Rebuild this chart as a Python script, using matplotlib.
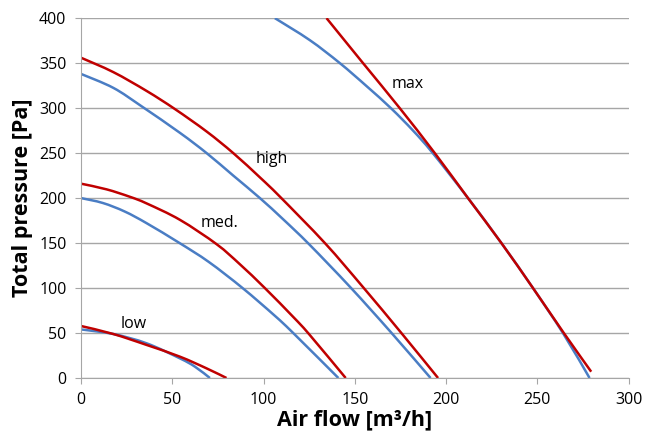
import matplotlib
matplotlib.use("Agg")
import matplotlib.pyplot as plt
from matplotlib.path import Path
from matplotlib.patches import PathPatch

plt.rcParams['font.family'] = ['Open Sans', 'DejaVu Sans']

# fan curves (x: air flow m3/h, y: total pressure Pa)
low_blue_x = [0, 17.7, 36, 54.2, 62.4, 70.6]
low_blue_y = [54, 48.9, 38.5, 21.8, 12.6, 0]
low_red_x = [0, 17.7, 36, 54.2, 68.8, 79.7]
low_red_y = [57.8, 48.9, 36.7, 23.7, 10.7, 0]

med_blue_x = [0, 12, 24, 36, 54, 70, 88.5, 106, 116, 141]
med_blue_y = [200, 194.5, 185, 172, 150, 129, 100, 69.5, 50.5, 0]
med_red_x = [0, 14, 26.8, 36, 54.2, 74.3, 87, 100.7, 116.2, 125, 145]
med_red_y = [216, 209.7, 201.4, 194, 175.8, 148.7, 126.5, 100, 68, 48.6, 0]

high_blue_x = [0, 17.7, 33.2, 54.2, 68.8, 83.4, 98, 110.7, 125, 147.5, 169.5, 191.5]
high_blue_y = [338, 322.5, 302, 272.5, 250, 225, 200, 176.5, 148.6, 101, 51.5, 0]
high_red_x = [0, 17.7, 36, 51.4, 68.8, 83.4, 98, 109, 133.6, 154.5, 175.5, 195.6]
high_red_y = [356, 340, 319, 299, 274, 250, 223, 201.5, 150, 101, 50, 0]

max_blue_x = [106.2, 125.3, 141.8, 156.4, 170, 181.9, 192.5, 212, 230.3, 247.6, 264, 278.6]
max_blue_y = [400, 375.6, 350, 324.5, 299.5, 275, 250.5, 200, 150, 100, 50, 0]
max_red_x = [134.5, 154.5, 174.6, 193.8, 212, 230.3, 247.6, 264.5, 279.5]
max_red_y = [400, 350, 300, 250, 200, 150, 100, 50, 7]

labels = ["low", "med.", "high", "max"]
label_x = [28.6, 76, 104.4, 179]
label_y = [59.6, 171.8, 243, 327]

blue = "#4a7dc4"
red = "#c00000"


def smooth_line(ax, xs, ys, color):
    # smoothed line like Excel: Catmull-Rom through the points, drawn as bezier path
    pts = list(zip(xs, ys))
    n = len(pts)
    verts = [pts[0]]
    codes = [Path.MOVETO]
    for i in range(n - 1):
        p0 = pts[i - 1] if i > 0 else pts[i]
        p1 = pts[i]
        p2 = pts[i + 1]
        p3 = pts[i + 2] if i + 2 < n else pts[i + 1]
        c1 = (p1[0] + (p2[0] - p0[0]) / 6, p1[1] + (p2[1] - p0[1]) / 6)
        c2 = (p2[0] - (p3[0] - p1[0]) / 6, p2[1] - (p3[1] - p1[1]) / 6)
        verts += [c1, c2, p2]
        codes += [Path.CURVE4] * 3
    ax.add_patch(PathPatch(Path(verts, codes), fill=False, edgecolor=color,
                           lw=1.8, capstyle='butt', joinstyle='round'))


fig = plt.figure(figsize=(6.45, 4.32), dpi=100)
ax = fig.add_axes([0.1256, 0.125, 0.849, 0.833])

curves = [(low_blue_x, low_blue_y, low_red_x, low_red_y),
          (med_blue_x, med_blue_y, med_red_x, med_red_y),
          (high_blue_x, high_blue_y, high_red_x, high_red_y),
          (max_blue_x, max_blue_y, max_red_x, max_red_y)]
for bx, by, rx, ry in curves:
    smooth_line(ax, bx, by, blue)
    smooth_line(ax, rx, ry, red)

for t, x, y in zip(labels, label_x, label_y):
    ax.text(x, y, t, fontsize=11.5, ha='center', va='center', color='black')

ax.set_xlim(0, 300)
ax.set_ylim(0, 400)
ax.set_xticks(range(0, 301, 50))
ax.set_yticks(range(0, 401, 50))
ax.grid(axis='y', color='#a6a6a6', lw=1)
ax.set_axisbelow(True)
for s in ['top', 'right']:
    ax.spines[s].set_visible(False)
for s in ['left', 'bottom']:
    ax.spines[s].set_color('#a6a6a6')
ax.tick_params(axis='both', colors='#a6a6a6', labelcolor='black', labelsize=11.5,
               length=4, direction='out')
ax.tick_params(axis='x', pad=6)
ax.tick_params(axis='y', pad=6.5)

ax.set_xlabel("Air flow [m³/h]", fontsize=15.5, fontweight='bold', labelpad=1)
ax.set_ylabel("Total pressure [Pa]", fontsize=15.5, fontweight='bold', labelpad=4)

fig.savefig("out.png", dpi=100)
